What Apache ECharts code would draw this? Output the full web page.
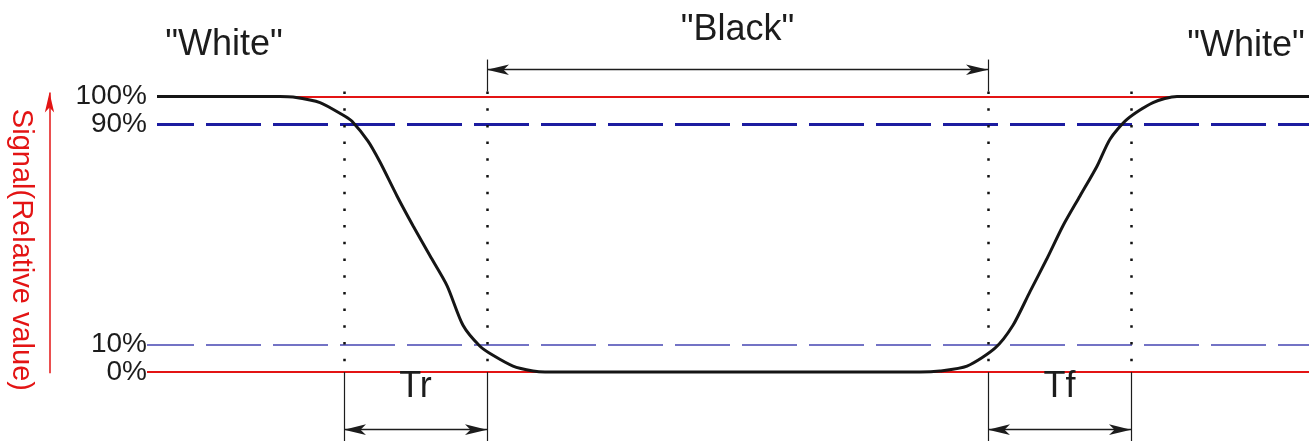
<!DOCTYPE html>
<html>
<head>
<meta charset="utf-8">
<script src="https://cdn.jsdelivr.net/npm/echarts@6/dist/echarts.min.js"></script>
<style>
  html, body { margin: 0; padding: 0; background: #fff; }
  #container { width: 1309px; height: 441px; }
</style>
</head>
<body>
<div id="container"></div>
<script>
// levels (percent) and time in arbitrary units (10 px per unit)
var levelTicks = [0, 10, 90, 100];
var curveTime  = [15.7, 28.0, 29.3, 32.0, 34.5, 35.2, 36.8, 38.0, 39.7, 41.3, 43.0, 44.7, 46.3, 48.0, 49.3, 51.3, 53.3, 54.5,
                  92.0, 94.0, 96.7, 99.5, 101.3, 103.0, 104.7, 106.3, 108.0, 109.7, 111.0, 112.7, 115.3, 117.7, 130.9];
var curveLevel = [100, 100, 99.8, 97.8, 92.8, 91.0, 83.8, 76.2, 63.9, 53.1, 42.2, 31.4, 17.0, 9.4, 6.1, 2.2, 0.4, 0,
                  0, 0.4, 2.2, 8.7, 17.0, 29.2, 41.2, 53.1, 63.9, 74.7, 84.5, 91.7, 97.8, 100, 100];
var edgeTimes  = [34.4, 48.7, 98.8, 113.1];   // 90% fall, 10% fall, 10% rise, 90% rise
var stateNames = ['"White"', '"Black"', '"White"'];
var spanNames  = ['Tr', 'Tf'];
var axisTitle  = 'Signal(Relative value)';

var dom = document.getElementById('container');
var myChart = echarts.init(dom);

var FONT = 'Liberation Sans, Arial, sans-serif';
var RED = '#e31414';
var INK = '#1c1c1c';

function hline(y, x0, x1, style) {
    return [{ coord: [x0, y], lineStyle: style }, { coord: [x1, y] }];
}
function vline(x, y0, y1, style) {
    return [{ coord: [x, y0], lineStyle: style }, { coord: [x, y1] }];
}
function dim(x0, x1, y, text, dist) {
    return [
        { coord: [x0, y], symbol: 'arrow', symbolSize: [8, 22],
          lineStyle: { color: INK, width: 1.3, type: 'solid' },
          label: { show: true, formatter: text, position: 'middle', distance: dist,
                   fontSize: 36, fontFamily: FONT, color: INK } },
        { coord: [x1, y], symbol: 'arrow', symbolSize: [8, 22] }
    ];
}
// two label-only axes so neighbouring labels are never dropped
function levelAxis(ticks) {
    return {
        type: 'value', min: -25, max: 135,
        position: 'left',
        offset: -150,
        axisLine: { show: false },
        axisTick: { show: false },
        splitLine: { show: false },
        axisLabel: {
            customValues: ticks,
            formatter: '{value}%',
            showMinLabel: true,
            showMaxLabel: true,
            margin: 3,
            fontSize: 28,
            fontFamily: FONT,
            color: INK
        }
    };
}

var dotted = { color: '#111', width: 2.5, type: [2.5, 14.2] };
var ext = { color: INK, width: 1.2, type: 'solid' };

var lines = [
    hline(100, 15.7, 130.9, { color: RED, width: 2.2, type: 'solid' }),
    hline(90, 15.7, 130.9, { color: '#1c1ca0', width: 3, type: [55, 12], dashOffset: 18 }),
    hline(10, 14.7, 130.9, { color: '#4646b2', width: 1.5, type: [55, 12], dashOffset: 8 }),
    hline(0, 14.7, 130.9, { color: RED, width: 2.2, type: 'solid' })
];
edgeTimes.forEach(function (t) {
    lines.push(vline(t, 101.8, 0, dotted));
    lines.push(vline(t, 0, -25, ext));
});
lines.push(vline(edgeTimes[1], 113.4, 101.8, ext));
lines.push(vline(edgeTimes[2], 113.4, 101.8, ext));
lines.push(dim(edgeTimes[1], edgeTimes[2], 109.7, stateNames[1], 22));
lines.push(dim(edgeTimes[0], edgeTimes[1], -20.9, spanNames[0], 25));
lines.push(dim(edgeTimes[2], edgeTimes[3], -20.9, spanNames[1], 25));
// red level arrow with the axis title
lines.push([
    { coord: [4.95, 101.4], symbol: 'arrow', symbolSize: [7, 20],
      lineStyle: { color: RED, width: 1.5, type: 'solid' },
      label: { show: true, formatter: axisTitle, position: 'insideMiddleBottom', distance: 14,
               padding: [0, 0, 0, 34], fontSize: 29, fontFamily: FONT, color: RED } },
    { coord: [4.95, -0.4], symbol: 'none' }
]);

var curve = curveTime.map(function (t, i) { return [t, curveLevel[i]]; });

option = {
    backgroundColor: '#fff',
    animation: false,
    grid: { left: 0, right: 0, top: 0, height: 443 },
    xAxis: { type: 'value', min: 0, max: 130.9, show: false },
    yAxis: [
        levelAxis(levelTicks.filter(function (v, i) { return i % 2 === 0; })),
        levelAxis(levelTicks.filter(function (v, i) { return i % 2 === 1; }))
    ],
    series: [{
        type: 'line',
        data: curve,
        z: 10,
        clip: false,
        smooth: 0.25,
        showSymbol: false,
        lineStyle: { color: '#151515', width: 3 },
        markLine: {
            silent: true,
            symbol: 'none',
            label: { show: false },
            data: lines
        },
        markPoint: {
            silent: true,
            symbol: 'circle',
            symbolSize: 1,
            itemStyle: { color: 'rgba(0,0,0,0)' },
            label: { show: true, position: 'inside', fontSize: 36, fontFamily: FONT, color: INK },
            data: [
                { coord: [22.4, 118.6], value: stateNames[0], label: { formatter: stateNames[0] } },
                { coord: [124.6, 118.2], value: stateNames[2], label: { formatter: stateNames[2] } }
            ]
        }
    }]
};

myChart.setOption(option, true);
</script>
</body>
</html>
